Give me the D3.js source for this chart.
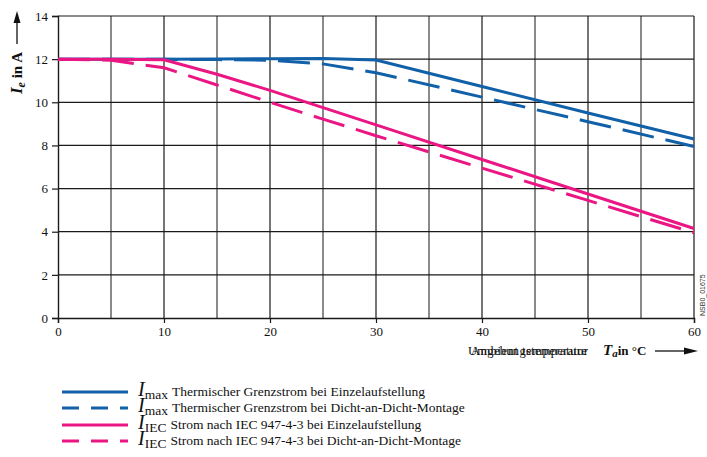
<!DOCTYPE html>
<html>
<head>
<meta charset="utf-8">
<script src="https://cdn.jsdelivr.net/npm/d3@7"></script>
<style>
  body { margin: 0; background: #fff; }
  svg { display: block; font-family: "Liberation Serif", "DejaVu Serif", serif; }
</style>
</head>
<body>
<div id="chart"></div>
<script>
// Data
var temps = [0, 5, 10, 15, 20, 25, 30, 40, 50, 60];
var imaxSingle = [12, 12, 12, 12.01, 12.02, 12.03, 11.96, 10.73, 9.5, 8.3];
var imaxDense = [12, 12, 11.99, 11.98, 11.95, 11.78, 11.37, 10.24, 9.1, 7.95];
var iecSingle = [12, 12, 11.97, 11.3, 10.55, 9.75, 8.95, 7.35, 5.75, 4.15];
var iecDense = [12, 11.95, 11.6, 10.8, 10.0, 9.22, 8.45, 6.95, 5.45, 3.95];
var xTicks = [0, 10, 20, 30, 40, 50, 60];
var yTicks = [0, 2, 4, 6, 8, 10, 12, 14];
var legendTexts = [
    'Thermischer Grenzstrom bei Einzelaufstellung',
    'Thermischer Grenzstrom bei Dicht-an-Dicht-Montage',
    'Strom nach IEC 947-4-3 bei Einzelaufstellung',
    'Strom nach IEC 947-4-3 bei Dicht-an-Dicht-Montage'
];
var legendSubs = ['max', 'max', 'IEC', 'IEC'];

var blue = '#1160a8';
var pink = '#ea1683';

var series = [
    { values: imaxSingle, color: blue, dash: null },
    { values: imaxDense, color: blue, dash: '32,12' },
    { values: iecSingle, color: pink, dash: null },
    { values: iecDense, color: pink, dash: '32,12' }
];

var W = 707, H = 457;
var pLeft = 58, pRight = 694, pTop = 16, pBottom = 318;

var svg = d3.select('#chart').append('svg')
    .attr('width', W)
    .attr('height', H)
;

var x = d3.scaleLinear().domain([0, 60]).range([pLeft, pRight]);
var y = d3.scaleLinear().domain([0, 14]).range([pBottom, pTop]);

// Grid
var g = svg.append('g');
g.selectAll('line.v')
    .data(d3.range(5, 61, 5))
    .enter()
    .append('line')
    .attr('x1', function (d) { return x(d); })
    .attr('x2', function (d) { return x(d); })
    .attr('y1', pTop)
    .attr('y2', pBottom)
    .attr('stroke', function (d) { return d % 10 === 0 ? '#1a1a1a' : '#8a8a8a'; })
    .attr('stroke-width', function (d) { return d % 10 === 0 ? 1.2 : 2; })
;
g.selectAll('line.h')
    .data(d3.range(2, 15, 2))
    .enter()
    .append('line')
    .attr('x1', pLeft)
    .attr('x2', pRight)
    .attr('y1', function (d) { return y(d); })
    .attr('y2', function (d) { return y(d); })
    .attr('stroke', '#1a1a1a')
    .attr('stroke-width', 1.2)
;

// Axes
var xAxis = svg.append('g')
    .attr('transform', 'translate(0,' + pBottom + ')')
    .call(d3.axisBottom(x).tickValues(xTicks).tickSize(5).tickPadding(4));
var yAxis = svg.append('g')
    .attr('transform', 'translate(' + pLeft + ',0)')
    .call(d3.axisLeft(y).tickValues(yTicks).tickSize(6).tickPadding(4));
[xAxis, yAxis].forEach(function (a) {
    a.select('.domain').attr('stroke', '#1a1a1a').attr('stroke-width', 1.4);
    a.selectAll('.tick line').attr('stroke', '#1a1a1a').attr('stroke-width', 1.2);
    a.selectAll('.tick text')
        .attr('font-family', '"Liberation Serif", serif')
        .attr('font-size', '13px')
        .attr('fill', '#111');
});

// Lines
var line = d3.line()
    .x(function (d, i) { return x(temps[i]); })
    .y(function (d) { return y(d); })
;
svg.selectAll('path.series')
    .data(series)
    .enter()
    .append('path')
    .attr('class', 'series')
    .attr('d', function (d) { return line(d.values); })
    .attr('fill', 'none')
    .attr('stroke', function (d) { return d.color; })
    .attr('stroke-width', 3)
    .attr('stroke-dasharray', function (d) { return d.dash; })
;

// Y axis title
var yt = svg.append('text')
    .attr('transform', 'translate(22,94) rotate(-90)')
    .attr('font-weight', 'bold')
    .attr('font-size', '15px')
    .attr('fill', '#111');
yt.append('tspan').attr('font-style', 'italic').attr('font-size', '17px').text('I');
yt.append('tspan').attr('font-style', 'italic').attr('font-size', '12px').attr('dy', 3).text('e');
yt.append('tspan').attr('dy', -3).text(' in A');
svg.append('line')
    .attr('x1', 17).attr('x2', 17)
    .attr('y1', 44).attr('y2', 20)
    .attr('stroke', '#111').attr('stroke-width', 1.3);
svg.append('path')
    .attr('d', 'M17,11 L13.5,23 L20.5,23 Z')
    .attr('fill', '#111');

// X axis title (two overlapping labels, as in the source)
svg.append('text')
    .attr('x', 468).attr('y', 355)
    .attr('font-size', '12.5px')
    .attr('fill', '#111')
    .attr('textLength', 120)
    .text('Umgebungstemperatur');
svg.append('text')
    .attr('x', 471).attr('y', 355)
    .attr('font-size', '12.5px')
    .attr('fill', '#111')
    .attr('textLength', 116)
    .text('Ambient temperature');
var xt = svg.append('text')
    .attr('x', 603).attr('y', 355)
    .attr('font-weight', 'bold')
    .attr('font-size', '13px')
    .attr('fill', '#111');
xt.append('tspan').attr('font-style', 'italic').attr('font-size', '15px').text('T');
xt.append('tspan').attr('font-style', 'italic').attr('font-size', '11px').attr('dy', 2).text('a');
xt.append('tspan').attr('dy', -2).text('in °C');
svg.append('line')
    .attr('x1', 655).attr('x2', 686)
    .attr('y1', 351).attr('y2', 351)
    .attr('stroke', '#111').attr('stroke-width', 1.3);
svg.append('path')
    .attr('d', 'M698,351 L684,347.5 L684,354.5 Z')
    .attr('fill', '#111');

// Watermark
svg.append('text')
    .attr('transform', 'translate(705,316) rotate(-90)')
    .attr('font-family', '"Liberation Sans", sans-serif')
    .attr('font-size', '7px')
    .attr('fill', '#333')
    .text('NSB0_01675');

// Legend
var legendY = [392, 408, 425, 441];
var lg = svg.selectAll('g.legend')
    .data(series)
    .enter()
    .append('g')
    .attr('class', 'legend')
    .attr('transform', function (d, i) { return 'translate(0,' + legendY[i] + ')'; })
;
lg.append('line')
    .attr('x1', 62).attr('x2', 128)
    .attr('y1', 0).attr('y2', 0)
    .attr('stroke', function (d) { return d.color; })
    .attr('stroke-width', 3)
    .attr('stroke-dasharray', function (d) { return d.dash ? '17,12' : null; })
;
var lt = lg.append('text')
    .attr('x', 138).attr('y', 4)
    .attr('fill', '#111');
lt.append('tspan')
    .attr('font-style', 'italic')
    .attr('font-size', '20px')
    .text('I');
lt.append('tspan')
    .attr('font-size', '13.5px')
    .attr('dy', 3)
    .text(function (d, i) { return legendSubs[i]; });
lt.append('tspan')
    .attr('font-size', '13.5px')
    .attr('dx', 4)
    .attr('dy', -3)
    .text(function (d, i) { return legendTexts[i]; });
</script>
</body>
</html>
